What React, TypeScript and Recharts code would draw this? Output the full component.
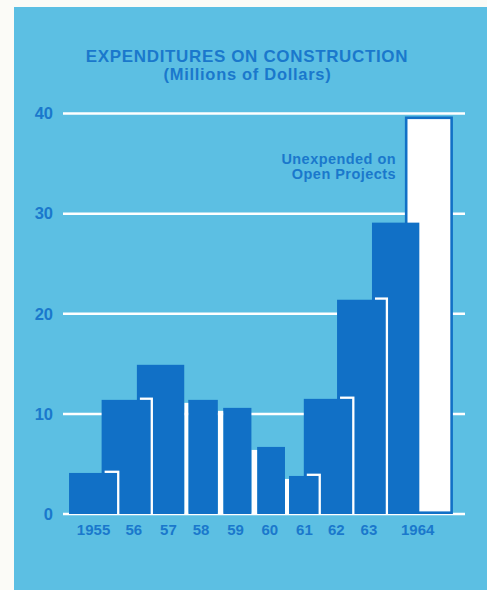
import React from "react";
import { ComposedChart, XAxis, YAxis, CartesianGrid, ReferenceArea, Line } from "recharts";

// ---- data ----
const yearLabels = ["1955", "56", "57", "58", "59", "60", "61", "62", "63", "1964"];
const labelPositions = [1954.8, 1956, 1957.03, 1958, 1959.03, 1960.05, 1961.08, 1962.03, 1963, 1964.45];
const barStart = [1954.07, 1955.04, 1956.09, 1957.62, 1958.66, 1959.67, 1960.62, 1961.06, 1962.05, 1963.09];
const barEnd = [1955.5, 1956.5, 1957.5, 1958.5, 1959.5, 1960.5, 1961.5, 1962.5, 1963.5, 1964.5];
const expended = [4.1, 11.4, 14.9, 11.4, 10.6, 6.7, 3.8, 11.5, 21.4, 29.1];
const unexpendedStart = [1964.07];
const unexpendedEnd = [1965.5];
const unexpendedTotal = [39.7];
const yTicks = [0, 10, 20, 30, 40];
const xDomain = [1953.89, 1965.86];

const BG = "#5cbfe3";
const BAR = "#1170c6";
const TEXT = "#1a78cc";
const FONT = "'Liberation Sans', Arial, Helvetica, sans-serif";

const chartData = expended.map((v, i) => ({ year: yearLabels[i], mid: (barStart[i] + barEnd[i]) / 2, value: v }));

const BarShape = (p: any) => (
  <rect x={p.x} y={p.y} width={p.width} height={p.height} fill={BAR} />
);

const makeSepShape = (overlap: boolean) => (p: any) =>
  overlap ? (
    <rect x={p.x + 3} y={p.y - 2.3} width={Math.max(0, p.width - 3 + 2.3)} height={p.height + 2.3} fill="#ffffff" />
  ) : (
    <rect x={p.x} y={p.y + 3} width={p.width} height={Math.max(0, p.height - 3)} fill="#ffffff" />
  );

const UnexpShape = (p: any) => (
  <rect x={p.x + 1.3} y={p.y + 1.3} width={p.width - 2.6} height={p.height - 2.6} fill="#ffffff" stroke={BAR} strokeWidth={2.6} />
);

export default function App() {
  const layers: React.ReactNode[] = [];
  layers.push(
    <ReferenceArea
      key="unexp"
      x1={unexpendedStart[0]}
      x2={unexpendedEnd[0]}
      y1={0}
      y2={unexpendedTotal[0]}
      ifOverflow="visible"
      fillOpacity={1}
      shape={UnexpShape}
    />
  );
  for (let i = expended.length - 1; i >= 0; i--) {
    layers.push(
      <ReferenceArea
        key={"bar" + i}
        x1={barStart[i]}
        x2={barEnd[i]}
        y1={0}
        y2={expended[i]}
        ifOverflow="visible"
        fillOpacity={1}
        shape={BarShape}
      />
    );
    if (i > 0) {
      const j = i - 1;
      const overlap = barStart[i] < barEnd[j];
      layers.push(
        <ReferenceArea
          key={"sep" + j}
          x1={Math.min(barStart[i], barEnd[j])}
          x2={Math.max(barStart[i], barEnd[j])}
          y1={0}
          y2={Math.min(expended[i], expended[j])}
          ifOverflow="visible"
          fillOpacity={1}
          shape={makeSepShape(overlap)}
        />
      );
    }
  }

  return (
    <div style={{ position: "absolute", left: 0, top: 0, width: 487, height: 590, background: "#fbfbf7", overflow: "hidden" }}>
      <div style={{ position: "absolute", left: 14, top: 7, width: 473, height: 583, background: BG }} />
      <div style={{ position: "absolute", left: 0, top: 0 }}>
        <ComposedChart
          width={487}
          height={590}
          data={chartData}
          margin={{ top: 113.5, right: 22, bottom: 46, left: 13 }}
        >
          <CartesianGrid horizontal={true} vertical={false} stroke="#ffffff" strokeWidth={2.5} strokeOpacity={1} />
          <XAxis
            type="number"
            dataKey="mid"
            domain={xDomain}
            allowDataOverflow
            ticks={labelPositions}
            interval={0}
            tickFormatter={(v: number) => yearLabels[labelPositions.indexOf(v)] ?? ""}
            axisLine={false}
            tickLine={false}
            tickSize={0}
            tickMargin={10}
            height={30}
            tick={{ fill: TEXT, fontSize: 15, fontWeight: 700, fontFamily: FONT }}
          />
          <YAxis
            type="number"
            dataKey="value"
            domain={[0, 40]}
            allowDataOverflow
            ticks={yTicks}
            interval={0}
            axisLine={false}
            tickLine={false}
            tickSize={0}
            tickMargin={10}
            width={50}
            tick={{ fill: TEXT, fontSize: 16.5, fontWeight: 700, fontFamily: FONT }}
          />
          <Line dataKey="value" stroke="none" dot={false} activeDot={false} isAnimationActive={false} legendType="none" />
          {layers}
        </ComposedChart>
      </div>
      <svg width={487} height={590} style={{ position: "absolute", left: 0, top: 0, pointerEvents: "none" }}>
        <text x={247} y={62} textAnchor="middle" fill={TEXT} fontSize={17} fontWeight={700} fontFamily={FONT} letterSpacing={0.65}>
          EXPENDITURES ON CONSTRUCTION
        </text>
        <text x={247.5} y={80} textAnchor="middle" fill={TEXT} fontSize={16.5} fontWeight={700} fontFamily={FONT} letterSpacing={0.7}>
          (Millions of Dollars)
        </text>
        <text x={396} y={163.5} textAnchor="end" fill={TEXT} fontSize={14.5} fontWeight={700} fontFamily={FONT} letterSpacing={0.45}>
          Unexpended on
        </text>
        <text x={396} y={178.5} textAnchor="end" fill={TEXT} fontSize={14.5} fontWeight={700} fontFamily={FONT} letterSpacing={0.45}>
          Open Projects
        </text>
      </svg>
    </div>
  );
}
